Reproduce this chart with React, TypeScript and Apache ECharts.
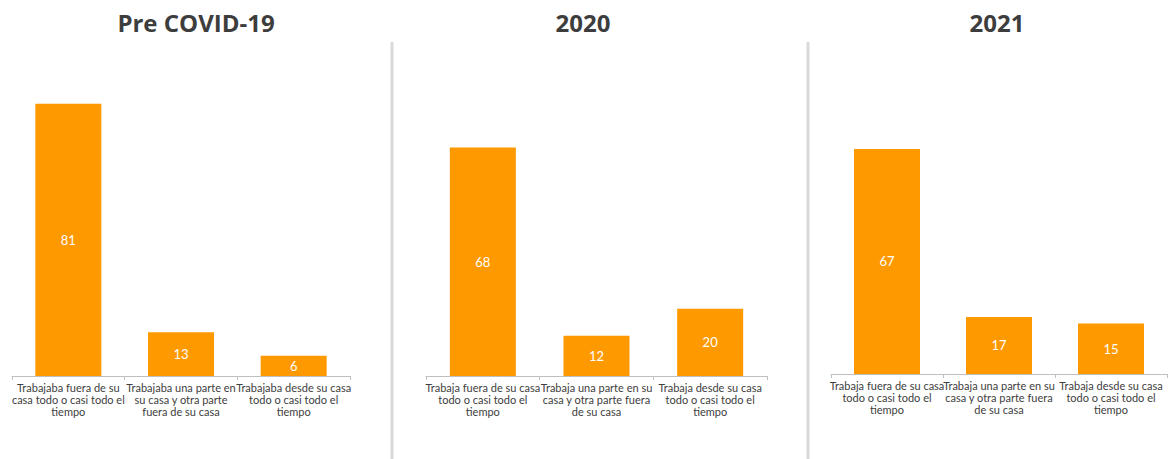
import React, { useEffect, useRef } from "react";
import * as echarts from "echarts";

const titles = ["Pre COVID-19", "2020", "2021"];

const categoriesPre = [
  "Trabajaba fuera de su\ncasa todo o casi todo el\ntiempo",
  "Trabajaba una parte en\nsu casa y otra parte\nfuera de su casa",
  "Trabajaba desde su casa\ntodo o casi todo el\ntiempo",
];
const categories2020 = [
  "Trabaja fuera de su casa\ntodo o casi todo el\ntiempo",
  "Trabaja una parte en su\ncasa y otra parte fuera\nde su casa",
  "Trabaja desde su casa\ntodo o casi todo el\ntiempo",
];
const categories2021 = [
  "Trabaja fuera de su casa\ntodo o casi todo el\ntiempo",
  "Trabaja una parte en su\ncasa y otra parte fuera\nde su casa",
  "Trabaja desde su casa\ntodo o casi todo el\ntiempo",
];

const valuesPre = [81, 13, 6];
const values2020 = [68, 12, 20];
const values2021 = [67, 17, 15];

const ORANGE = "#FF9900";
const FONT = "Lato, 'Open Sans', sans-serif";

export default function App() {
  const ref = useRef<HTMLDivElement>(null);
  useEffect(() => {
    if (!ref.current) return;
    const chart = echarts.init(ref.current, undefined, { renderer: "svg" });
    const grids = [
      { left: 12, top: 40, width: 338, height: 336 },
      { left: 426, top: 40, width: 341, height: 336 },
      { left: 831, top: 38, width: 336, height: 336 },
    ];
    const cats = [categoriesPre, categories2020, categories2021];
    const vals = [valuesPre, values2020, values2021];
    const titleCenters = [191, 578, 992];
    chart.setOption({
      animation: false,
      backgroundColor: "#ffffff",
      title: titles.map((t, i) => ({
        text: t,
        left: titleCenters[i],
        top: 5,
        textAlign: "center",
        textStyle: {
          fontFamily: "'Open Sans', sans-serif",
          fontWeight: 700,
          fontSize: 24,
          color: "#3d3d3d",
        },
      })),
      grid: grids,
      xAxis: cats.map((c, i) => ({
        type: "category",
        gridIndex: i,
        data: c,
        axisLine: { show: true, lineStyle: { color: "#bfbfbf", width: 1 } },
        axisTick: { show: true, length: 4, lineStyle: { color: "#bfbfbf" } },
        axisLabel: {
          interval: 0,
          margin: 5,
          fontFamily: FONT,
          fontSize: 11,
          lineHeight: 12,
          color: "#404040",
          align: "center",
        },
      })),
      yAxis: cats.map((_, i) => ({
        type: "value",
        gridIndex: i,
        min: 0,
        max: 100,
        show: false,
        splitLine: { show: false },
      })),
      series: vals.map((v, i) => ({
        type: "bar",
        xAxisIndex: i,
        yAxisIndex: i,
        data: v,
        barWidth: 66,
        itemStyle: { color: ORANGE },
        label: {
          show: true,
          position: "inside",
          color: "#ffffff",
          fontFamily: FONT,
          fontSize: 13,
        },
      })),
      graphic: [
        {
          type: "line",
          shape: { x1: 392, y1: 42, x2: 392, y2: 459 },
          style: { stroke: "#d9d9d9", lineWidth: 3 },
        },
        {
          type: "line",
          shape: { x1: 808, y1: 42, x2: 808, y2: 459 },
          style: { stroke: "#d9d9d9", lineWidth: 3 },
        },
      ],
    });
    return () => chart.dispose();
  }, []);
  return (
    <div
      ref={ref}
      style={{ position: "absolute", left: 0, top: 0, width: 1173, height: 459 }}
    />
  );
}
